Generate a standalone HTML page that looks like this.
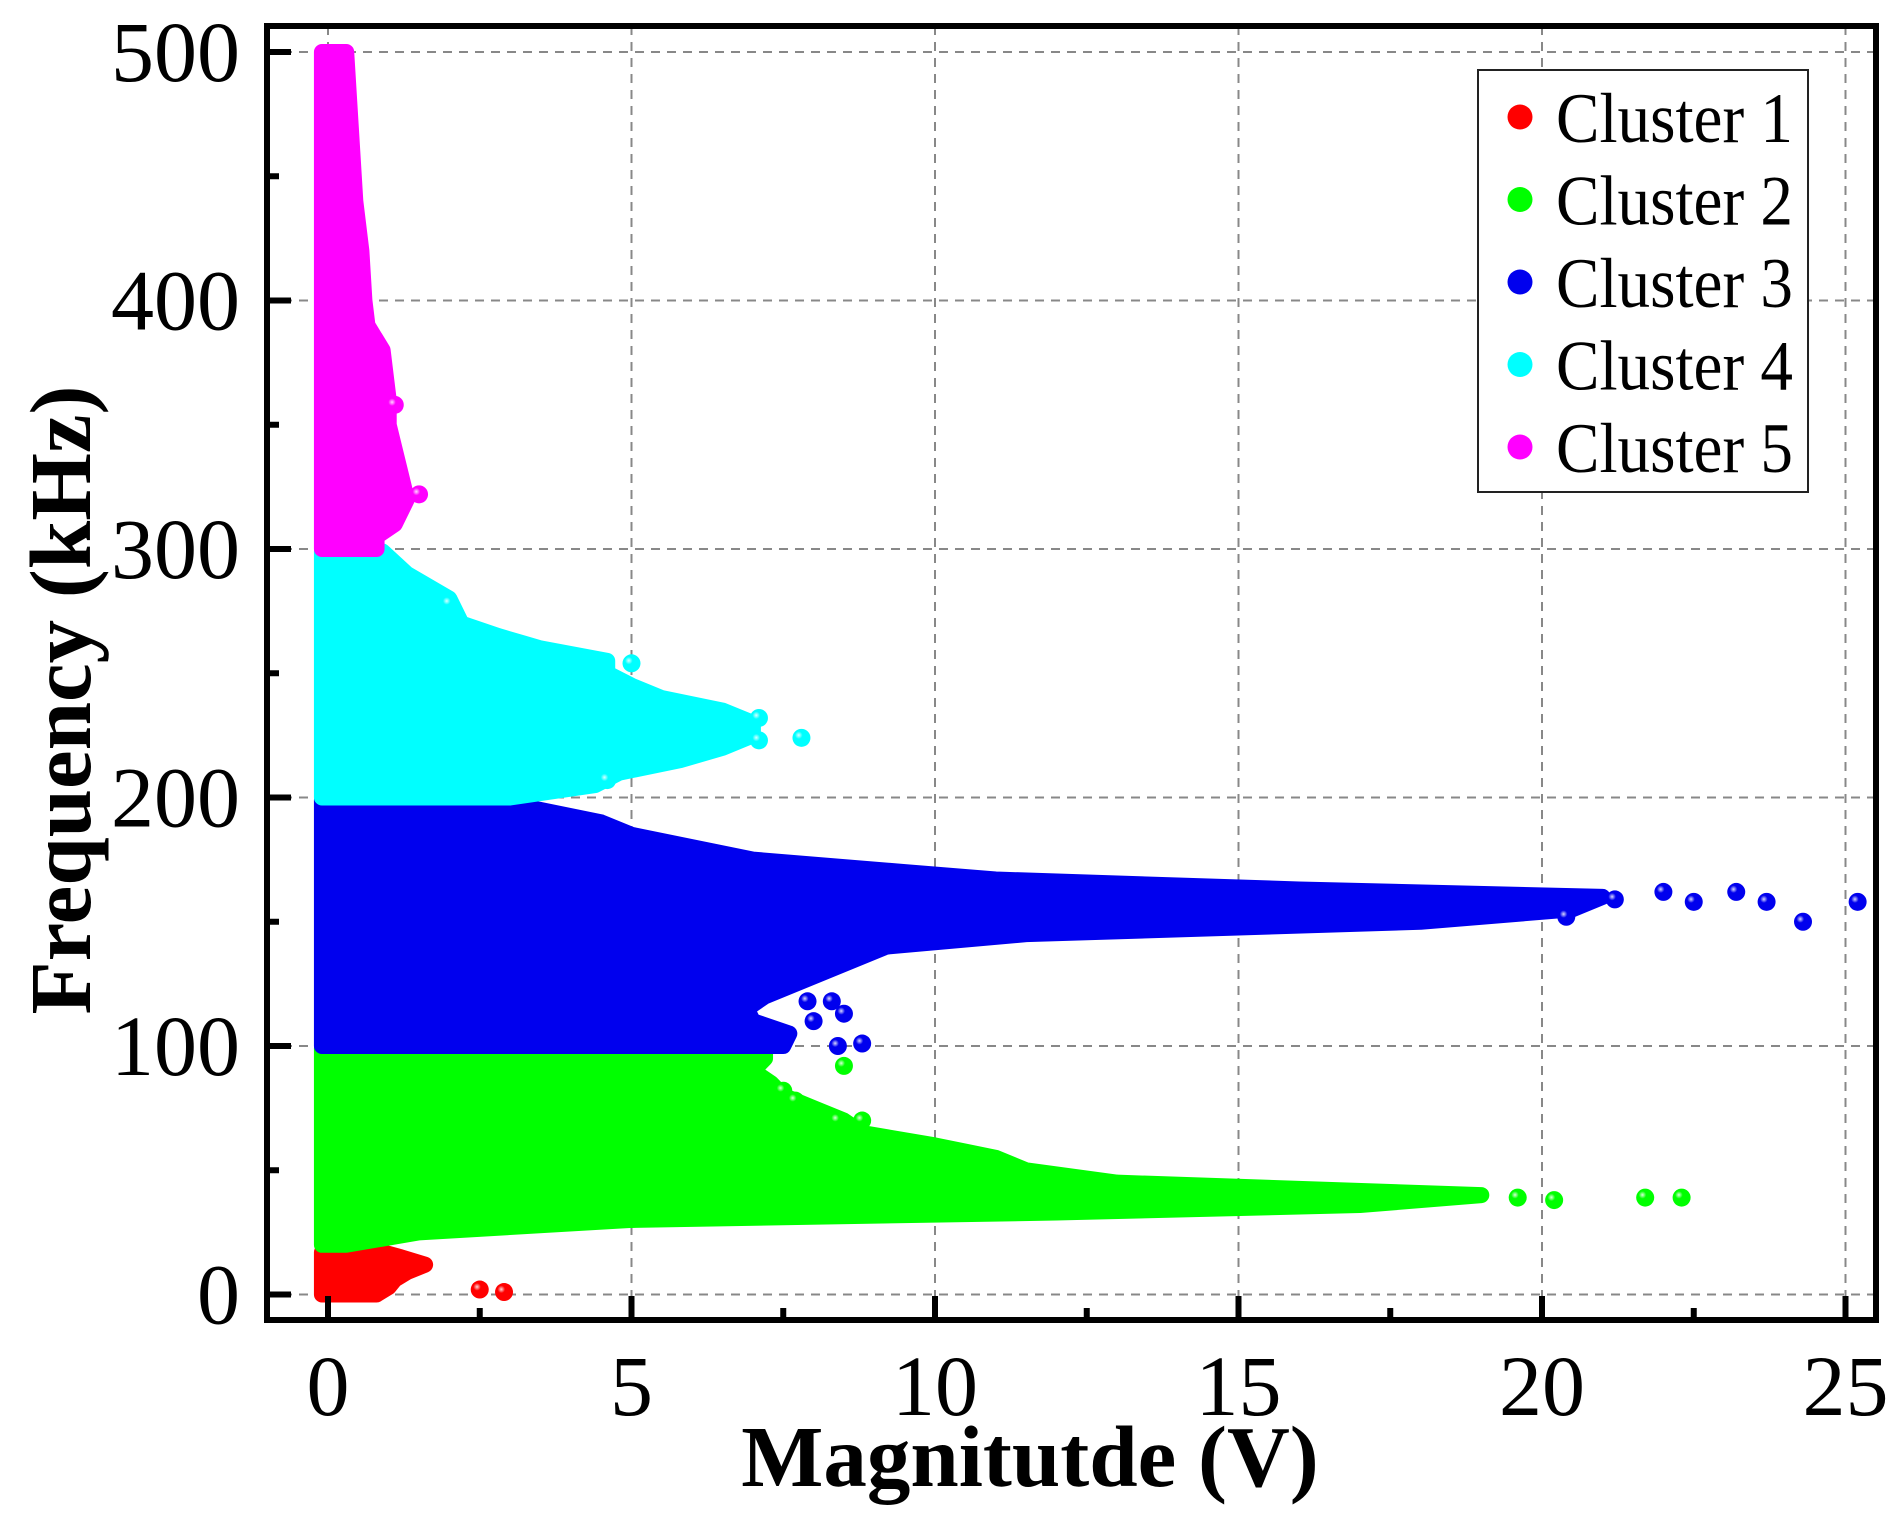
<!DOCTYPE html>
<html><head><meta charset="utf-8"><style>
html,body{margin:0;padding:0;background:#fff;}
svg{display:block;font-family:"Liberation Serif",serif;}
</style></head><body>
<svg id="chart" width="1900" height="1525" viewBox="0 0 1900 1525" xmlns="http://www.w3.org/2000/svg">
<defs>
<radialGradient id="shine" cx="0.35" cy="0.35" r="0.6"><stop offset="0" stop-color="#fff" stop-opacity="0.85"/><stop offset="0.35" stop-color="#fff" stop-opacity="0"/></radialGradient>
</defs>
<g id="grid"></g>
<g id="clusters"></g>
<g id="axes"></g>
<text transform="translate(90,700) rotate(-90)" text-anchor="middle" font-size="87" font-weight="bold">Frequency (kHz)</text>
<text x="1030" y="1486" text-anchor="middle" font-size="87" font-weight="bold">Magnitutde (V)</text>
<g id="legend"></g>
</svg>
<script>
const xTicks=[0,5,10,15,20,25];
const yTicks=[0,100,200,300,400,500];
const clusterNames=["Cluster 1","Cluster 2","Cluster 3","Cluster 4","Cluster 5"];
const clusterColors=["#ff0000","#00ff00","#0000ee","#00ffff","#ff00ff"];
// envelope: frequency (kHz) and max magnitude (V) for each dense cluster
const c1Freq=[0,3,6,9,12,15,17];
const c1Mag=[0.8,1.0,1.1,1.3,1.6,1.2,0.9];
const c2Freq=[20,25,30,33,36,40,45,50,55,60,65,70,75,80,85,90,95,99];
const c2Mag=[0.3,1.5,5,12,17,19,13,11.5,11,10,8.8,8.5,8,7.5,7.3,7,7.2,7.2];
const c3Freq=[100,105,110,115,120,130,140,145,150,155,160,163,167,170,175,180,185,190,195,199];
const c3Mag=[7.5,7.6,7.0,6.9,7.2,8.2,9.2,11.5,18,20.5,21,16,11,9.5,7,6,5,4.5,3.5,2.5];
const c4Freq=[200,205,210,215,220,225,230,235,240,245,250,255,260,265,270,280,290,299];
const c4Mag=[3,4.4,4.8,5.8,6.5,7.0,7.0,6.5,5.5,5.0,4.6,4.6,3.5,2.8,2.2,2.0,1.3,0.9];
const c5Freq=[300,305,310,320,330,340,350,360,370,380,390,400,420,440,460,480,500];
const c5Mag=[0.8,0.8,1.1,1.3,1.2,1.1,1.0,1.0,0.95,0.9,0.65,0.6,0.55,0.45,0.4,0.35,0.3];
// outlier points [magnitude, frequency]
const c1Out=[[2.5,2],[2.9,1]];
const c2Out=[[7.5,82],[7.7,78],[8.5,92],[8.4,70],[8.8,70],[20.2,38],[21.7,39],[22.3,39],[19.6,39]];
const c3Out=[[8.8,101],[8.4,100],[8.0,110],[8.5,113],[7.9,118],[8.3,118],[22.0,162],[22.5,158],[23.2,162],[23.7,158],[24.3,150],[25.2,158],[20.4,152],[21.2,159]];
const c4Out=[[7.8,224],[7.1,223],[5.0,254],[4.6,207],[7.1,232],[2.0,278]];
const c5Out=[[1.5,322],[1.1,358]];

const NS="http://www.w3.org/2000/svg";
const X0=267,X1=1876,Y0=26,Y1=1320;
function sx(v){return 328+v*60.7;}
function sy(v){return 1294.5-v*2.485;}
function mk(tag,attrs,parent){const e=document.createElementNS(NS,tag);for(const k in attrs)e.setAttribute(k,attrs[k]);parent.appendChild(e);return e;}

const grid=document.getElementById('grid');
xTicks.forEach(t=>{const l=mk('line',{x1:sx(t),x2:sx(t),y1:Y0,y2:Y1,stroke:'#888','stroke-width':2,'stroke-dasharray':'9,7'},grid);

});
yTicks.forEach(t=>{const l=mk('line',{x1:X0,x2:X1,y1:sy(t),y2:sy(t),stroke:'#888','stroke-width':2,'stroke-dasharray':'9,7'},grid);

});

const cg=document.getElementById('clusters');
const envs=[[c1Freq,c1Mag],[c2Freq,c2Mag],[c3Freq,c3Mag],[c4Freq,c4Mag],[c5Freq,c5Mag]];
const outs=[c1Out,c2Out,c3Out,c4Out,c5Out];
envs.forEach((e,i)=>{
  const f=e[0],m=e[1];
  let pts=[[sx(-0.1),sy(f[0])]];
  for(let k=0;k<f.length;k++)pts.push([sx(m[k]),sy(f[k])]);
  pts.push([sx(-0.1),sy(f[f.length-1])]);
  const p=mk('polygon',{points:pts.map(q=>q.join(',')).join(' '),fill:clusterColors[i],stroke:clusterColors[i],'stroke-width':16,'stroke-linejoin':'round'},cg);
  
  
});
outs.forEach((o,i)=>{
  o.forEach(pt=>{
    const c=mk('circle',{cx:sx(pt[0]),cy:sy(pt[1]),r:9,fill:clusterColors[i]},cg);
    
    
    mk('circle',{cx:sx(pt[0]),cy:sy(pt[1]),r:9,fill:'url(#shine)'},cg);
  });
});

const ax=document.getElementById('axes');
const fr=mk('rect',{x:X0,y:Y0,width:X1-X0,height:Y1-Y0,fill:'none',stroke:'#000','stroke-width':6},ax);


for(let v=0;v<=25;v+=2.5){const major=v%5===0;mk('line',{x1:sx(v),x2:sx(v),y1:Y1,y2:Y1-(major?24:12),stroke:'#000','stroke-width':6},ax);}
for(let v=0;v<=500;v+=50){const major=v%100===0;mk('line',{x1:X0,x2:X0+(major?24:12),y1:sy(v),y2:sy(v),stroke:'#000','stroke-width':6},ax);}
xTicks.forEach(t=>{const tx=mk('text',{x:sx(t),y:1415,'text-anchor':'middle','font-size':86},ax);tx.textContent=t;

});
yTicks.forEach(t=>{const tx=mk('text',{x:240,y:sy(t)+29,'text-anchor':'end','font-size':86},ax);tx.textContent=t;

});

const lg=document.getElementById('legend');
const lb=mk('rect',{x:1478,y:70,width:330,height:422,fill:'#fff',stroke:'#222','stroke-width':2},lg);


clusterNames.forEach((n,i)=>{
  const cy=117+i*82.5;
  const g=mk('g',{},lg);
  
  
  mk('circle',{cx:1520,cy:cy,r:12.5,fill:clusterColors[i]},g);
  const t=mk('text',{x:1556,y:cy+25,'font-size':71,textLength:237,lengthAdjust:'spacingAndGlyphs'},g);t.textContent=n;
});
</script>
</body></html>
